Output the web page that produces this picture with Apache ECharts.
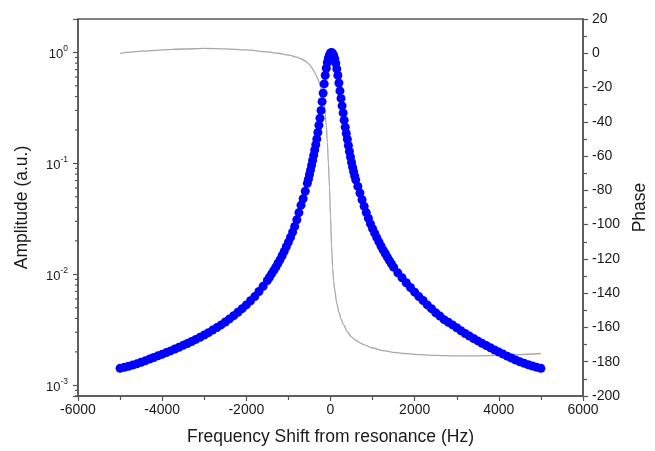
<!DOCTYPE html>
<html>
<head>
<meta charset="utf-8">
<script src="https://cdn.jsdelivr.net/npm/echarts@6/dist/echarts.min.js"></script>
<style>
  html, body { margin: 0; padding: 0; background: #fff; }
  #main { width: 655px; height: 451px; }
</style>
</head>
<body>
<div id="main"></div>
<script>
// amplitude (log axis)
var ampFreq = [
  -5000, -4900, -4800, -4700, -4600, -4500, -4400, -4300, -4200, -4100,
  -4000, -3900, -3800, -3700, -3600, -3500, -3400, -3300, -3200, -3100,
  -3000, -2900, -2800, -2700, -2600, -2500, -2400, -2300, -2200, -2100,
  -2000, -1900, -1800, -1700, -1600, -1500,
  -1450, -1400, -1350, -1300, -1250, -1200, -1150, -1100, -1050, -1000,
  -950, -900, -850, -800, -750, -700, -650, -600, -550,
  -525, -500, -475, -450, -425, -400, -375, -350, -325, -300,
  -275, -250, -225, -200, -175, -150, -125, -100, -75, -50, -25,
  0, 25, 50, 75, 100, 125, 150, 175, 200, 225, 250,
  275, 300, 325, 350, 375, 400, 425, 450, 475, 500, 525, 550, 575,
  600, 650, 700, 750, 800, 850, 900, 950, 1000, 1050,
  1100, 1150, 1200, 1250, 1300, 1350, 1400, 1450, 1500,
  1600, 1700, 1800, 1900, 2000, 2100, 2200, 2300, 2400, 2500,
  2600, 2700, 2800, 2900, 3000, 3100, 3200, 3300, 3400, 3500,
  3600, 3700, 3800, 3900, 4000, 4100, 4200, 4300, 4400, 4500,
  4600, 4700, 4800, 4900, 5000
];
var ampValue = [
  0.00142, 0.00145, 0.00148, 0.00152, 0.00156, 0.00161, 0.00166, 0.00172, 0.00178, 0.00184,
  0.0019, 0.00197, 0.00204, 0.00212, 0.0022, 0.00229, 0.00238, 0.00248, 0.00259, 0.00271,
  0.00284, 0.00298, 0.00314, 0.00331, 0.0035, 0.00372, 0.00396, 0.00424, 0.00455, 0.0049,
  0.0053, 0.00577, 0.0063, 0.0070, 0.0078, 0.0088,
  0.0094, 0.0101, 0.0108, 0.0116, 0.0125, 0.0135, 0.0147, 0.0161, 0.0177, 0.0195,
  0.0215, 0.024, 0.027, 0.031, 0.036, 0.042, 0.048, 0.056, 0.066,
  0.072, 0.079, 0.087, 0.096, 0.106, 0.118, 0.132, 0.147, 0.166, 0.19,
  0.22, 0.255, 0.3, 0.36, 0.43, 0.52, 0.62, 0.72, 0.81, 0.89, 0.95,
  0.99, 1.0, 0.98, 0.94, 0.88, 0.8, 0.71, 0.62, 0.53, 0.45, 0.385,
  0.33, 0.285, 0.245, 0.212, 0.186, 0.165, 0.145, 0.128, 0.114, 0.102, 0.092, 0.084, 0.077,
  0.071, 0.062, 0.054, 0.047, 0.041, 0.036, 0.032, 0.0285, 0.0258, 0.0235,
  0.0214, 0.0196, 0.018, 0.0166, 0.0154, 0.0143, 0.0133, 0.0124, 0.0116,
  0.0103, 0.0093, 0.0084, 0.0076, 0.0069, 0.0063, 0.0058, 0.0053, 0.0049, 0.0045,
  0.0042, 0.0039, 0.0037, 0.0035, 0.0033, 0.0031, 0.00293, 0.00278, 0.00264, 0.00251,
  0.00239, 0.00228, 0.00218, 0.00208, 0.00199, 0.00191, 0.00183, 0.00176, 0.00169, 0.00163,
  0.00158, 0.00153, 0.00149, 0.00145, 0.00142
];

// phase (right axis)
var phaseFreq = [
  -5000, -4750, -4500, -4000, -3500, -3000, -2500, -2000, -1500, -1250,
  -1000, -900, -800, -700, -600, -500, -450, -400, -350, -300,
  -250, -200, -150, -100, -75, -50, -25, 0, 25, 50,
  75, 100, 150, 200, 250, 300, 400, 500, 600, 700,
  800, 1000, 1250, 1500, 1750, 2000, 2500, 3000, 3500, 4000,
  4500, 5000
];
var phaseValue = [
  0, 0.7, 1.2, 2.0, 2.5, 2.8, 2.6, 2.0, 0.8, 0,
  -1, -1.6, -2.3, -3.2, -4.5, -6.5, -8.2, -10.2, -12.4, -15,
  -18.5, -23, -30, -42, -52, -64, -78, -95, -112, -125,
  -133, -138, -146, -151, -155, -158, -162.5, -165.5, -167.5, -169,
  -170.2, -172, -173.5, -174.5, -175.2, -175.7, -176.3, -176.6, -176.6, -176.3,
  -175.8, -175.2
];

// log-style minor ticks on the amplitude axis
var logMinorTicks = [
  0.0008, 0.0009,
  0.002, 0.003, 0.004, 0.005, 0.006, 0.007, 0.008, 0.009,
  0.02, 0.03, 0.04, 0.05, 0.06, 0.07, 0.08, 0.09,
  0.2, 0.3, 0.4, 0.5, 0.6, 0.7, 0.8, 0.9
];

var xMin = -6000, xMax = 6000;
var axisColor = '#555';
var textColor = '#1a1a1a';
var fontFamily = '"Liberation Sans", Arial, sans-serif';

var chart = echarts.init(document.getElementById('main'));

var option = {
  animation: false,
  backgroundColor: '#fff',
  textStyle: { fontFamily: fontFamily },
  grid: {
    left: 78, right: 72, top: 19, bottom: 55,
    show: true, borderColor: axisColor, borderWidth: 1.5,
    outerBoundsMode: 'none'
  },
  xAxis: {
    type: 'value',
    min: xMin, max: xMax, interval: 2000,
    name: 'Frequency Shift from resonance (Hz)',
    nameLocation: 'middle', nameGap: 32,
    nameTextStyle: { fontSize: 17.5, color: textColor, fontFamily: fontFamily },
    axisLine: { show: true, onZero: false, lineStyle: { color: axisColor, width: 1.5 } },
    axisTick: { show: true, inside: false, length: 5, lineStyle: { color: axisColor, width: 1.2 } },
    minorTick: { show: true, splitNumber: 2, length: 4, lineStyle: { color: axisColor, width: 1.2 } },
    axisLabel: {
      fontSize: 14, color: textColor, margin: 7, fontFamily: fontFamily,
      formatter: function (v) { return String(v); }
    },
    splitLine: { show: false }
  },
  yAxis: [
    {
      type: 'log', logBase: 10,
      min: 0.0008, max: 2,
      position: 'left',
      name: 'Amplitude (a.u.)',
      nameLocation: 'middle', nameGap: 47,
      nameTextStyle: { fontSize: 17.5, color: textColor, fontFamily: fontFamily },
      axisLine: { show: true, onZero: false, lineStyle: { color: axisColor, width: 1.5 } },
      axisTick: { show: true, inside: false, length: 5, lineStyle: { color: axisColor, width: 1.2 } },
      splitLine: { show: false },
      axisLabel: {
        margin: 10, color: textColor, fontFamily: fontFamily,
        formatter: function (v) {
          var e = Math.log(v) / Math.LN10;
          var r = Math.round(e);
          if (Math.abs(e - r) > 1e-6) return '';
          return '{b|10}{s|' + r + '}';
        },
        rich: {
          b: { fontSize: 13, color: textColor, fontFamily: fontFamily, lineHeight: 17, verticalAlign: 'bottom' },
          s: { fontSize: 8.5, color: textColor, fontFamily: fontFamily, lineHeight: 17, verticalAlign: 'top' }
        }
      }
    },
    {
      type: 'value',
      min: -200, max: 20, interval: 20,
      position: 'right',
      name: 'Phase',
      nameLocation: 'middle', nameGap: 44,
      nameTextStyle: { fontSize: 17.5, color: textColor, fontFamily: fontFamily },
      axisLine: { show: true, onZero: false, lineStyle: { color: axisColor, width: 1.5 } },
      axisTick: { show: true, inside: false, length: 5, lineStyle: { color: axisColor, width: 1.2 } },
      minorTick: { show: true, splitNumber: 2, length: 4, lineStyle: { color: axisColor, width: 1.2 } },
      axisLabel: { fontSize: 14, color: textColor, margin: 9, fontFamily: fontFamily },
      splitLine: { show: false }
    }
  ],
  series: [
    {
      name: 'Phase',
      type: 'line',
      yAxisIndex: 1,
      data: phaseFreq.map(function (f, i) { return [f, phaseValue[i]]; }),
      showSymbol: false,
      smooth: 0.3,
      smoothMonotone: 'x',
      lineStyle: { color: '#a8a8a8', width: 1.3 },
      z: 2
    },
    {
      name: 'Amplitude',
      type: 'scatter',
      yAxisIndex: 0,
      data: ampFreq.map(function (f, i) { return [f, ampValue[i]]; }),
      symbol: 'circle',
      symbolSize: 9,
      itemStyle: { color: '#0000ff', opacity: 1 },
      z: 3
    },
    {
      name: 'minor',
      type: 'custom',
      yAxisIndex: 0,
      silent: true,
      clip: false,
      data: logMinorTicks.map(function (v) { return [xMin, v]; }),
      renderItem: function (params, api) {
        var p = api.coord([api.value(0), api.value(1)]);
        return {
          type: 'line',
          shape: { x1: p[0] - 3, y1: p[1], x2: p[0], y2: p[1] },
          style: { stroke: axisColor, lineWidth: 1.2 }
        };
      },
      z: 4
    }
  ]
};

option && chart.setOption(option);
</script>
</body>
</html>
